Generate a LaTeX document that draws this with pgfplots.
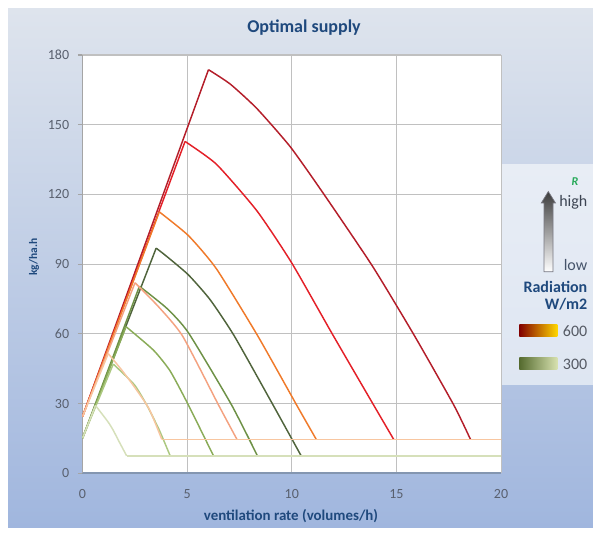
\documentclass[border=0pt]{standalone}
\usepackage{pgfplots}
\pgfplotsset{compat=1.18}
\usepackage{fontspec}
\setmainfont{Carlito}
\definecolor{tblue}{RGB}{31,73,125}
\definecolor{tickgrey}{RGB}{89,96,110}
\definecolor{bgtop}{RGB}{222,228,237}
\definecolor{bgbot}{RGB}{160,182,222}
\definecolor{paneltop}{RGB}{232,237,245}
\definecolor{panelbot}{RGB}{222,230,242}
\definecolor{gridc}{RGB}{192,192,192}
\definecolor{cR5}{RGB}{180,30,42}
\definecolor{cR4}{RGB}{228,32,40}
\definecolor{cR3}{RGB}{240,122,42}
\definecolor{cR2}{RGB}{244,162,128}
\definecolor{cR1}{RGB}{248,198,160}
\definecolor{cG5}{RGB}{80,100,60}
\definecolor{cG4}{RGB}{110,145,70}
\definecolor{cG3}{RGB}{138,172,88}
\definecolor{cG2}{RGB}{172,200,128}
\definecolor{cG1}{RGB}{214,224,186}
\begin{document}
\begin{tikzpicture}[x=0.75pt,y=0.75pt]
\path[use as bounding box] (0,0) rectangle (593,535);
\fill[white] (0,0) rectangle (593,535);
\shade[top color=bgtop, bottom color=bgbot] (8,7) rectangle (593,526);
% legend panel
\shade[top color=paneltop, bottom color=panelbot] (502,150) rectangle (593,370);
\node[text=tblue, font=\bfseries\fontsize{13.5}{16}\selectfont] at (304,507) {Optimal supply};
\node[text=tblue, font=\bfseries\fontsize{11.2}{13}\selectfont] at (291,19) {ventilation rate (volumes/h)};
\node[text=tblue, font=\bfseries\fontsize{8.6}{10}\selectfont, rotate=90] at (34,278) {kg/ha.h};
\begin{axis}[
  at={(61.875pt,46.275pt)}, anchor=south west, scale only axis,
  width=313.9pt, height=313.7pt,
  xmin=0, xmax=20, ymin=0, ymax=180,
  xtick={0,5,10,15,20}, ytick={0,30,60,90,120,150,180},
  axis background/.style={fill=white},
  grid=major, grid style={draw=gridc, line width=0.8pt},
  axis x line*=bottom, axis y line*=left,
  x axis line style={draw={rgb,255:red,132;green,150;blue,176}, line width=1.4pt},
  y axis line style={draw={rgb,255:red,165;green,165;blue,165}, line width=0.8pt},
  tick align=outside, major tick length=3.5pt,
  xtick style={draw=none},
  ytick style={draw={rgb,255:red,165;green,165;blue,165}, line width=0.8pt},
  ticklabel style={font=\fontsize{10.5}{12}\selectfont, text=tickgrey},
  /pgf/number format/assume math mode=true,
  xticklabel style={yshift=-5pt},
  yticklabel style={xshift=-3pt},
  every axis plot/.append style={line width=1.1pt, line join=round},
]
% ---- 600 W/m2 family (darkest first)
\addplot[cR5] coordinates {(0,24.4) (6.02,173.7)};
\addplot[cR5, smooth, tension=0.35] coordinates {(6.02,173.7) (7.06,167.5) (8.33,157) (9.93,140.5) (11.52,120.3) (13.86,89.1) (15.85,59.4) (17.74,29.4) (18.54,14.6)};
\addplot[cR5] coordinates {(18.54,14.6) (20,14.6)};
\addplot[cR4] coordinates {(0,24.4) (4.9,142.8)};
\addplot[cR4, smooth, tension=0.35] coordinates {(4.9,142.8) (6.4,133) (8.33,113) (10,90.5) (11.96,59.6) (13.91,29.4) (14.87,14.6)};
\addplot[cR4] coordinates {(14.87,14.6) (20,14.6)};
% ---- 300 W/m2 family interleaved
\addplot[cG5] coordinates {(0,15.1) (3.52,96.9)};
\addplot[cG5, smooth, tension=0.35] coordinates {(3.52,96.9) (4.03,93.3) (5.06,85.4) (6.1,74.7) (7.26,59) (9.13,29) (10.45,7.5)};
\addplot[cG5] coordinates {(10.45,7.5) (20,7.5)};
\addplot[cR3] coordinates {(0,24.4) (3.67,112.5)};
\addplot[cR3, smooth, tension=0.35] coordinates {(3.67,112.5) (5.06,102.3) (6.4,88) (8.37,59.2) (10.25,29.1) (11.17,14.6)};
\addplot[cR3] coordinates {(11.17,14.6) (20,14.6)};
\addplot[cG4] coordinates {(0,15.1) (2.72,80.5)};
\addplot[cG4, smooth, tension=0.35] coordinates {(2.72,80.5) (4.03,71) (5.06,60.5) (7.1,29.8) (8.36,7.5)};
\addplot[cG4] coordinates {(8.36,7.5) (20,7.5)};
\addplot[cR2] coordinates {(0,24.4) (2.51,82)};
\addplot[cR2, smooth, tension=0.35] coordinates {(2.51,82) (3.63,71.7) (4.78,59.1) (6.5,29.4) (7.38,14.6)};
\addplot[cR2] coordinates {(7.38,14.6) (20,14.6)};
\addplot[cG3] coordinates {(0,15.1) (2.08,63.1)};
\addplot[cG3, smooth, tension=0.35] coordinates {(2.08,63.1) (3.39,53) (4.19,44) (5.06,29.4) (6.26,7.5)};
\addplot[cG3] coordinates {(6.26,7.5) (20,7.5)};
\addplot[cG2] coordinates {(0,15.1) (1.47,47)};
\addplot[cG2, smooth, tension=0.35] coordinates {(1.47,47) (2.47,38.2) (3.07,29.4) (3.65,19) (4.19,7.5)};
\addplot[cG2] coordinates {(4.19,7.5) (20,7.5)};
\addplot[cR1] coordinates {(0,24.4) (1.23,51.5)};
\addplot[cR1, smooth, tension=0.35] coordinates {(1.23,51.5) (1.87,44.5) (2.47,37.3) (3.19,27.6) (3.79,14.6)};
\addplot[cR1] coordinates {(3.79,14.6) (20,14.6)};
\addplot[cG1] coordinates {(0,15.1) (0.62,29.2)};
\addplot[cG1, smooth, tension=0.35] coordinates {(0.62,29.2) (1.23,22) (1.47,18.5) (1.71,14.3) (2.11,7.5)};
\addplot[cG1] coordinates {(2.11,7.5) (20,7.5)};
\end{axis}
% legend contents
\node[text={rgb,255:red,40;green,170;blue,90}, font=\bfseries\itshape\fontsize{9}{10}\selectfont] at (575,353) {R};
\shade[top color={rgb,255:red,60;green,60;blue,60}, bottom color=white, draw={rgb,255:red,120;green,120;blue,130}, line width=0.5pt]
  (544,263.3) -- (544,332) -- (541.3,332) -- (548.3,343.5) -- (555.5,332) -- (553,332) -- (553,263.3) -- cycle;
\node[anchor=east, text={rgb,255:red,60;green,68;blue,82}, font=\fontsize{12}{14}\selectfont] at (592,333) {high};
\node[anchor=east, text={rgb,255:red,70;green,84;blue,106}, font=\fontsize{12}{14}\selectfont] at (592,270) {low};
\node[anchor=east, text=tblue, font=\bfseries\fontsize{12}{14}\selectfont] at (592,248) {Radiation};
\node[anchor=east, text=tblue, font=\bfseries\fontsize{12}{14}\selectfont] at (592,231) {W/m2};
\shade[left color={rgb,255:red,130;green,0;blue,0}, middle color={rgb,255:red,240;green,60;blue,20}, right color={rgb,255:red,255;green,215;blue,0}] (519.3,198.3) rectangle (557.3,210);
\node[anchor=east, text={rgb,255:red,85;green,90;blue,100}, font=\fontsize{12}{14}\selectfont] at (592,204) {600};
\shade[left color={rgb,255:red,85;green,107;blue,47}, right color={rgb,255:red,215;green,225;blue,175}] (519.3,165) rectangle (557.3,177);
\node[anchor=east, text={rgb,255:red,85;green,90;blue,100}, font=\fontsize{12}{14}\selectfont] at (592,171) {300};
\end{tikzpicture}
\end{document}
